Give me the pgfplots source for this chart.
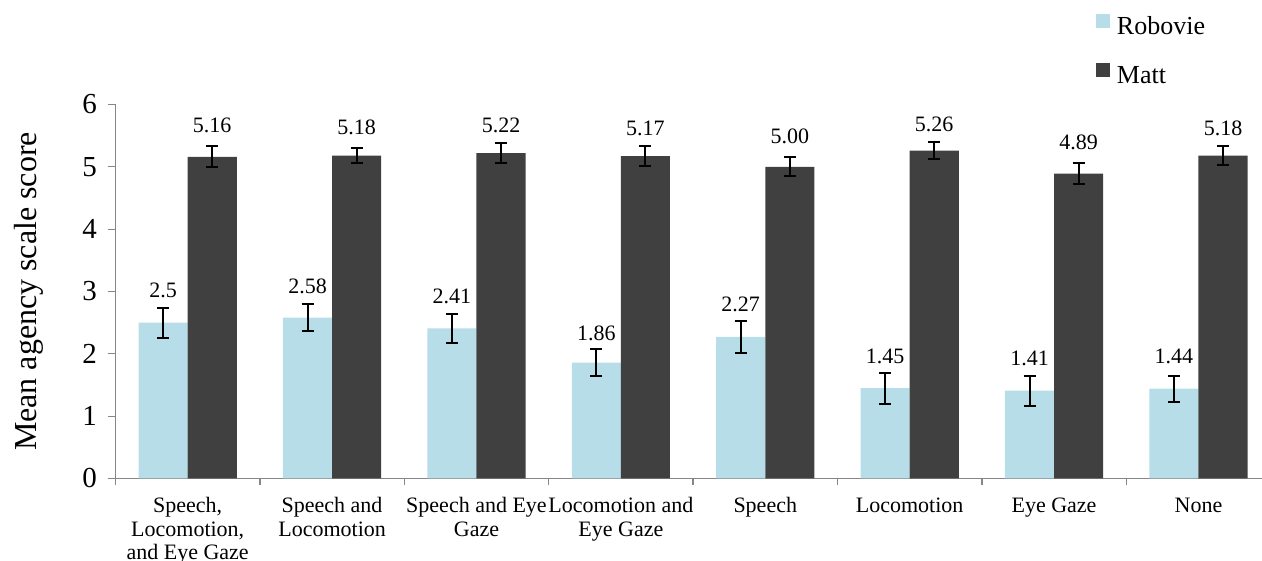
\documentclass[border=0pt]{standalone}
\usepackage{fontspec}
\setmainfont{Liberation Serif}
\usepackage{pgfplots}
\pgfplotsset{compat=1.18}
\usepackage{pgfplotstable}
\definecolor{robovie}{HTML}{B7DDE8}
\definecolor{matt}{HTML}{404040}
\definecolor{axgray}{HTML}{868686}

\pgfplotsset{sqlegend/.style={legend image code/.code={\fill[##1] (0pt,1pt) rectangle (14pt,15pt);}}}

\pgfplotstableread{
x y err
-0.17 2.50 0.243
0.83 2.58 0.22
1.83 2.41 0.235
2.83 1.86 0.22
3.83 2.27 0.26
4.83 1.45 0.25
5.83 1.41 0.24
6.83 1.44 0.21
}\robovietab

\pgfplotstableread{
x y err
0.17 5.16 0.17
1.17 5.18 0.115
2.17 5.22 0.16
3.17 5.17 0.16
4.17 5.00 0.15
5.17 5.26 0.14
6.17 4.89 0.17
7.17 5.18 0.15
}\matttab

\pgfplotstableread{
x ly lab
-0.17 2.896 2.5
0.83 2.971 2.58
1.83 2.800 2.41
2.83 2.211 1.86
3.83 2.676 2.27
4.83 1.848 1.45
5.83 1.805 1.41
6.83 1.837 1.44
}\roblab

\pgfplotstableread{
x ly lab
0.17 5.554 5.16
1.17 5.522 5.18
2.17 5.548 5.22
3.17 5.495 5.17
4.17 5.378 5.00
5.17 5.564 5.26
6.17 5.281 4.89
7.17 5.495 5.18
}\mattlab

\begin{document}
\begin{tikzpicture}
\path[use as bounding box] (0pt,0pt) rectangle (1262pt,561pt);
\begin{axis}[
  at={(115.5pt,82.5pt)}, anchor=south west,
  scale only axis, width=1146.5pt, height=374pt,
  xmin=-0.5, xmax=7.44, ymin=0, ymax=6,
  axis x line=bottom, axis y line=left,
  axis line style={-, axgray, line width=1.3pt},
  clip=false,
  xtick={0,...,7},
  xticklabels={{Speech,\\Locomotion,\\and Eye Gaze},{Speech and\\Locomotion},{Speech and Eye\\Gaze},{Locomotion and\\Eye Gaze},{Speech},{Locomotion},{Eye Gaze},{None}},
  minor xtick={-0.5,0.5,...,6.5},
  major x tick style={draw=none},
  ytick={0,...,6},
  tick align=outside,
  major tick length=8pt, minor tick length=7pt,
  every tick/.style={axgray, line width=1.3pt},
  /pgf/number format/assume math mode=true,
  xticklabel style={font=\fontsize{22}{23.5}\selectfont, align=center, anchor=north, inner sep=0pt, yshift=-11pt},
  yticklabel style={font=\fontsize{29}{29}\selectfont, anchor=east, inner sep=0pt, xshift=-10.5pt},
  ylabel={Mean agency scale score},
  every axis y label/.style={at={(axis description cs:-0.0754,0.5)}, rotate=90, anchor=center, font=\fontsize{32}{32}\selectfont},
  legend style={at={(axis description cs:0.8552,1.2420)}, anchor=north west, draw=none, fill=none,
    font=\fontsize{26}{26}\selectfont, inner sep=0pt, outer sep=0pt, row sep=22pt,
    nodes={inner sep=0pt, text height=18pt, text depth=6pt},
    /tikz/every odd column/.append style={column sep=7pt}},
  legend cell align=left,
]
\addplot[ybar, bar width=0.34, bar shift=0pt, fill=robovie, draw=none, sqlegend,
  error bars/.cd, y dir=both, y explicit,
  error bar style={black, line width=2pt},
  error mark options={rotate=90, mark size=6pt, line width=2pt, black}]
  table[x=x, y=y, y error=err] {\robovietab};
\addlegendentry{Robovie}
\addplot[ybar, bar width=0.34, bar shift=0pt, fill=matt, draw=none, sqlegend,
  error bars/.cd, y dir=both, y explicit,
  error bar style={black, line width=2pt},
  error mark options={rotate=90, mark size=6pt, line width=2pt, black}]
  table[x=x, y=y, y error=err] {\matttab};
\addlegendentry{Matt}
\addplot[draw=none, mark=none, forget plot, nodes near coords, point meta=explicit symbolic,
  nodes near coords style={anchor=base, inner sep=0pt, font=\fontsize{22}{22}\selectfont, black}]
  table[x=x, y=ly, meta=lab] {\roblab};
\addplot[draw=none, mark=none, forget plot, nodes near coords, point meta=explicit symbolic,
  nodes near coords style={anchor=base, inner sep=0pt, font=\fontsize{22}{22}\selectfont, black}]
  table[x=x, y=ly, meta=lab] {\mattlab};
\end{axis}
\end{tikzpicture}
\end{document}
